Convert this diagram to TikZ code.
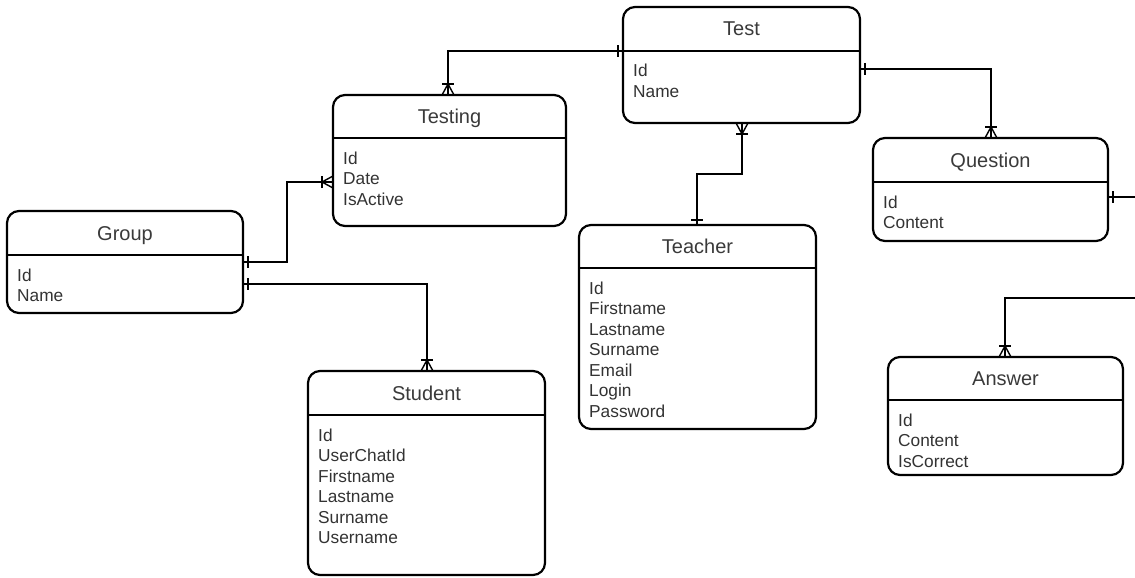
\documentclass[tikz,border=0pt]{standalone}
\usepackage{fontspec}
\setmainfont{Liberation Sans}
\usetikzlibrary{calc}
\definecolor{txt}{HTML}{333333}
\definecolor{ttl}{HTML}{3A3A3A}
\tikzset{
  entity/.style={draw=black, line width=2.2pt, rounded corners=12pt, inner sep=0pt, outer sep=0pt, fill=white},
  hdrline/.style={draw=black, line width=2pt},
  ertitle/.style={text=ttl, inner sep=0pt, font=\fontsize{20}{24}\selectfont},
  attr/.style={text=txt, inner sep=0pt, font=\fontsize{17.3}{20.5}\selectfont},
  conn/.style={draw=black, line width=1.4pt},
  onemark/.pic={\draw[conn] (5,-6) -- (5,6);},
  manymark/.pic={\draw[conn] (0,-6) -- (11,0) -- (0,6); \draw[conn] (11,-6) -- (11,6);}
}
% name, x, y, w, h, header offset, title
\newcommand\erentity[7]{%
  \node[entity, minimum width=#4pt, minimum height=#5pt, anchor=north west] (#1) at (#2,#3) {};
  \draw[hdrline] ($(#1.north west)+(0,#6)$) -- ($(#1.north east)+(0,#6)$);
  \node[ertitle, anchor=base] (#1-t) at ($(#1.north)+(0,#6/2+7)$) {#7};
}
% name, first baseline offset, list of attributes
\newcommand\erattrs[3]{%
  \foreach \t [count=\i] in {#3} {
    \node[attr, anchor=base west] (#1-\i) at ($(#1.north west)+(10,#2+20.5*\i-20.5)$) {\t};
  }
}
\begin{document}
\begin{tikzpicture}[x=1pt,y=-1pt]
\useasboundingbox (0,0) rectangle (1135,578);
\fill[white] (0,0) rectangle (1135,578);

\erentity{test}{623}{7}{237}{116}{44}{Test}
\erattrs{test}{70}{Id,Name}

\erentity{testing}{333}{95}{233}{131}{43}{Testing}
\erattrs{testing}{69}{Id,Date,IsActive}

\erentity{group}{7}{211}{236}{102}{44}{Group}
\erattrs{group}{70}{Id,Name}

\erentity{teacher}{579}{225}{237}{204}{43}{Teacher}
\erattrs{teacher}{69}{Id,Firstname,Lastname,Surname,Email,Login,Password}

\erentity{question}{873}{138}{235}{103}{44}{Question}
\erattrs{question}{70}{Id,Content}

\erentity{student}{308}{371}{237}{204}{44}{Student}
\erattrs{student}{70}{Id,UserChatId,Firstname,Lastname,Surname,Username}

\erentity{answer}{888}{357}{235}{118}{43}{Answer}
\erattrs{answer}{69}{Id,Content,IsCorrect}

% Test -- Testing
\draw[conn] ($(test.north west)+(0,44)$) -| ($(testing.north west)+(115,0)$);
\pic[rotate=180] at ($(test.north west)+(0,44)$) {onemark};
\pic[rotate=90] at ($(testing.north west)+(115,0)$) {manymark};

% Test -- Question
\draw[conn] ($(test.north east)+(0,62)$) -| ($(question.north west)+(118,0)$);
\pic at ($(test.north east)+(0,62)$) {onemark};
\pic[rotate=90] at ($(question.north west)+(118,0)$) {manymark};

% Test -- Teacher
\draw[conn] ($(test.south west)+(119,0)$) -- ++(0,51) -| ($(teacher.north west)+(118,0)$);
\pic[rotate=270] at ($(test.south west)+(119,0)$) {manymark};
\pic[rotate=90] at ($(teacher.north west)+(118,0)$) {onemark};

% Group -- Testing
\draw[conn] ($(group.north east)+(0,51)$) -- ++(44,0) |- ($(testing.north west)+(0,87)$);
\pic at ($(group.north east)+(0,51)$) {onemark};
\pic[rotate=180] at ($(testing.north west)+(0,87)$) {manymark};

% Group -- Student
\draw[conn] ($(group.north east)+(0,73)$) -| ($(student.north west)+(119,0)$);
\pic at ($(group.north east)+(0,73)$) {onemark};
\pic[rotate=90] at ($(student.north west)+(119,0)$) {manymark};

% Question -- (off edge)
\coordinate (qend) at (1135,197);
\draw[conn] ($(question.north east)+(0,59)$) -- (qend);
\pic at ($(question.north east)+(0,59)$) {onemark};

% (off edge) -- Answer
\coordinate (aend) at (1135,298);
\draw[conn] (aend) -| ($(answer.north west)+(117,0)$);
\pic[rotate=90] at ($(answer.north west)+(117,0)$) {manymark};
\end{tikzpicture}
\end{document}
